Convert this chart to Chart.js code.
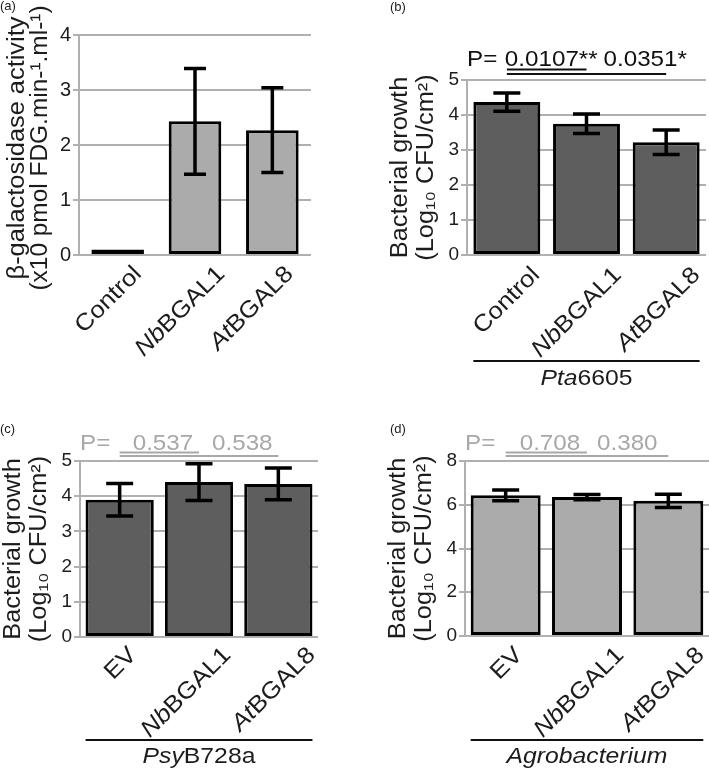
<!DOCTYPE html>
<html>
<head>
<meta charset="utf-8">
<script src="https://cdn.jsdelivr.net/npm/chart.js@4.4.1/dist/chart.umd.min.js"></script>
<style>
  body { margin: 0; background: #fff; }
  #fig { position: relative; width: 709px; height: 770px; overflow: hidden; }
  #fig canvas { position: absolute; }
</style>
</head>
<body>
<div id="fig">
  <canvas id="panelA" width="355" height="390" style="left:0;top:0"></canvas>
  <canvas id="panelB" width="354" height="390" style="left:355px;top:0"></canvas>
  <canvas id="panelC" width="355" height="380" style="left:0;top:390px"></canvas>
  <canvas id="panelD" width="354" height="380" style="left:355px;top:390px"></canvas>
</div>
<script>
// ---- data ----
const labelsTop = ["Control", "NbBGAL1", "AtBGAL8"];
const labelsBottom = ["EV", "NbBGAL1", "AtBGAL8"];
const italicPrefix = ["", "Nb", "At"];

const activity = [0.1, 2.43, 2.27];        // (a) x10 pmol FDG/min/ml
const activityErr = [0, 0.96, 0.77];
const ptaGrowth = [4.37, 3.75, 3.22];      // (b) log10 CFU/cm2
const ptaErr = [0.26, 0.28, 0.35];
const psyGrowth = [3.9, 4.4, 4.35];        // (c)
const psyErr = [0.46, 0.52, 0.45];
const agroGrowth = [6.43, 6.35, 6.18];     // (d)
const agroErr = [0.25, 0.12, 0.3];

const pPta = ["0.0107**", "0.0351*"];
const pPsy = ["0.537", "0.538"];
const pAgro = ["0.708", "0.380"];

const FONT = '"Liberation Sans", Arial, sans-serif';
const SX = 1.1;   // glyphs in the original are a bit wider than Arial
const GRID = '#b0b0b0';
const INK = '#1c1c1c';

// draws mixed italic/upright runs, optionally rotated and stretched
function drawText(ctx, parts, x, y, o) {
  ctx.save();
  ctx.translate(x, y);
  ctx.rotate(o.rot || 0);
  ctx.scale(o.sx || SX, 1);
  ctx.fillStyle = o.color || INK;
  ctx.textBaseline = o.baseline || 'alphabetic';
  ctx.textAlign = 'left';
  const fonts = parts.map(p => (p[1] ? 'italic ' : '') + o.size + 'px ' + FONT);
  let total = 0;
  const widths = parts.map((p, i) => { ctx.font = fonts[i]; const w = ctx.measureText(p[0]).width; total += w; return w; });
  let cx = o.align === 'right' ? -total : o.align === 'center' ? -total / 2 : 0;
  parts.forEach((p, i) => { ctx.font = fonts[i]; ctx.fillText(p[0], cx, 0); cx += widths[i]; });
  ctx.restore();
}

function errorBarPlugin(p) {
  return {
    id: 'errorBars',
    afterDatasetsDraw(chart) {
      const ctx = chart.ctx, y = chart.scales.y;
      const meta = chart.getDatasetMeta(0);
      ctx.save();
      ctx.strokeStyle = '#000';
      ctx.lineWidth = 3.5;
      meta.data.forEach((bar, i) => {
        const e = p.errors[i];
        if (!e) return;
        const v = p.values[i];
        const top = y.getPixelForValue(v + e), bot = y.getPixelForValue(v - e);
        ctx.beginPath();
        ctx.moveTo(bar.x, top); ctx.lineTo(bar.x, bot);
        ctx.moveTo(bar.x - p.cap / 2, top); ctx.lineTo(bar.x + p.cap / 2, top);
        ctx.moveTo(bar.x - p.cap / 2, bot); ctx.lineTo(bar.x + p.cap / 2, bot);
        ctx.stroke();
      });
      ctx.restore();
    }
  };
}

function annotatePlugin(p) {
  return {
    id: 'annotate',
    afterDraw(chart) {
      const ctx = chart.ctx, a = chart.chartArea, x = chart.scales.x;
      const bars = chart.getDatasetMeta(0).data;
      const cx = i => x.getPixelForValue(i);

      drawText(ctx, [[p.letter, false]], p.letterX, p.letterY, { size: 13, sx: 1 });

      const midY = (a.top + a.bottom) / 2 + (p.titleShift || 0);
      p.title.forEach((t, i) => drawText(ctx, [[t, false]], p.titleX[i], midY,
        { size: p.titleSize, sx: p.titleSx[i], rot: -Math.PI / 2, align: 'center', baseline: 'middle' }));

      p.labels.forEach((lab, i) => {
        const it = italicPrefix[i] && lab.startsWith(italicPrefix[i]) ? italicPrefix[i] : '';
        const parts = it ? [[it, true], [lab.slice(it.length), false]] : [[lab, false]];
        drawText(ctx, parts, cx(i) + p.labelDx[i], a.bottom + p.labelDy,
          { size: 23.5, rot: -Math.PI / 4, align: 'right' });
      });

      if (p.pvals) {
        drawText(ctx, [['P=', false]], a.left, p.pY, { size: 22, color: p.pColor });
        p.pvals.forEach((t, i) => drawText(ctx, [[t, false]], cx(i) + p.pOff[i], p.pY, { size: 22, color: p.pColor }));
        ctx.save();
        ctx.strokeStyle = p.pColor;
        ctx.lineWidth = 2;
        p.pLines.forEach((ly, i) => {
          ctx.beginPath();
          ctx.moveTo(cx(0), ly);
          ctx.lineTo(cx(i + 1), ly);
          ctx.stroke();
        });
        ctx.restore();
      }

      if (p.group) {
        const l = bars[0].x - bars[0].width / 2, r = bars[2].x + bars[2].width / 2;
        ctx.save();
        ctx.strokeStyle = '#111';
        ctx.lineWidth = 2;
        ctx.beginPath(); ctx.moveTo(l, p.groupLineY); ctx.lineTo(r, p.groupLineY); ctx.stroke();
        ctx.restore();
        drawText(ctx, p.group, (l + r) / 2, p.groupY, { size: 22.5, align: 'center' });
      }
    }
  };
}

const growthTitle = ['Bacterial growth', '(Log\u2081\u2080 CFU/cm\u00B2)'];

const panels = [
  { id: 'panelA', w: 355, h: 390, area: { left: 79, right: 311, top: 35, bottom: 255 },
    letter: '(a)', letterX: 0, letterY: 10,
    labels: labelsTop, values: activity, errors: activityErr, yMax: 4, yStep: 1,
    fill: '#ababab', barPct: 0.68, cap: 22, tickSize: 20,
    title: ['\u03B2-galactosidase activity', '(x10 pmol FDG.min-\u00B9.ml-\u00B9)'], titleX: [18, 41], titleSize: 23.5, titleSx: [1.08, 1.04], titleShift: 3,
    labelDx: [25, 31, 22], labelDy: 20 },
  { id: 'panelB', w: 354, h: 390, area: { left: 112, right: 351, top: 80, bottom: 255 },
    letter: '(b)', letterX: 35, letterY: 11,
    labels: labelsTop, values: ptaGrowth, errors: ptaErr, yMax: 5, yStep: 1,
    fill: '#5e5e5e', barPct: 0.84, cap: 27, tickSize: 19,
    title: growthTitle, titleX: [46, 72], titleSize: 23, titleSx: [1.1, 1.1],
    labelDx: [34, 36, 35], labelDy: 21,
    pvals: pPta, pOff: [-2, 17], pY: 65.5, pColor: '#111', pLines: [69.5, 74],
    group: [['Pta', true], ['6605', false]], groupLineY: 361, groupY: 385 },
  { id: 'panelC', w: 355, h: 380, area: { left: 80, right: 318, top: 71, bottom: 247 },
    letter: '(c)', letterX: 0, letterY: 43,
    labels: labelsBottom, values: psyGrowth, errors: psyErr, yMax: 5, yStep: 1,
    fill: '#5e5e5e', barPct: 0.86, cap: 27, tickSize: 19,
    title: growthTitle, titleX: [14, 40], titleSize: 23, titleSx: [1.1, 1.1],
    labelDx: [18, 33, 38], labelDy: 19,
    pvals: pPsy, pOff: [13, 13], pY: 60, pColor: '#a8a8a8', pLines: [62.5, 66],
    group: [['Psy', true], ['B728a', false]], groupLineY: 350, groupY: 373 },
  { id: 'panelD', w: 354, h: 380, area: { left: 110, right: 354, top: 71, bottom: 246 },
    letter: '(d)', letterX: 35, letterY: 43,
    labels: labelsBottom, values: agroGrowth, errors: agroErr, yMax: 8, yStep: 2,
    fill: '#ababab', barPct: 0.86, cap: 27, tickSize: 19,
    title: growthTitle, titleX: [44, 70], titleSize: 23, titleSx: [1.1, 1.1],
    labelDx: [18, 38, 37], labelDy: 20,
    pvals: pAgro, pOff: [14, 10], pY: 60, pColor: '#a8a8a8', pLines: [62.5, 66],
    group: [['Agrobacterium', true]], groupLineY: 350, groupY: 373 }
];

panels.forEach(p => {
  new Chart(document.getElementById(p.id), {
    type: 'bar',
    data: {
      labels: p.labels,
      datasets: [{
        data: p.values,
        backgroundColor: p.fill,
        borderColor: '#000',
        borderWidth: 3,
        borderSkipped: false,
        barPercentage: p.barPct,
        categoryPercentage: 1
      }]
    },
    options: {
      responsive: false,
      animation: false,
      devicePixelRatio: 1,
      layout: { padding: { left: 0, top: p.area.top, right: p.w - p.area.right, bottom: p.h - p.area.bottom } },
      plugins: { legend: { display: false }, tooltip: { enabled: false } },
      scales: {
        x: { display: false },
        y: {
          min: 0, max: p.yMax,
          ticks: { stepSize: p.yStep, color: INK, padding: 2, font: { family: FONT, size: p.tickSize } },
          grid: { color: GRID, lineWidth: 2, tickLength: 6 },
          border: { color: GRID, width: 2 },
          afterFit: s => { s.width = p.area.left; }
        }
      }
    },
    plugins: [errorBarPlugin(p), annotatePlugin(p)]
  });
});
</script>
</body>
</html>
